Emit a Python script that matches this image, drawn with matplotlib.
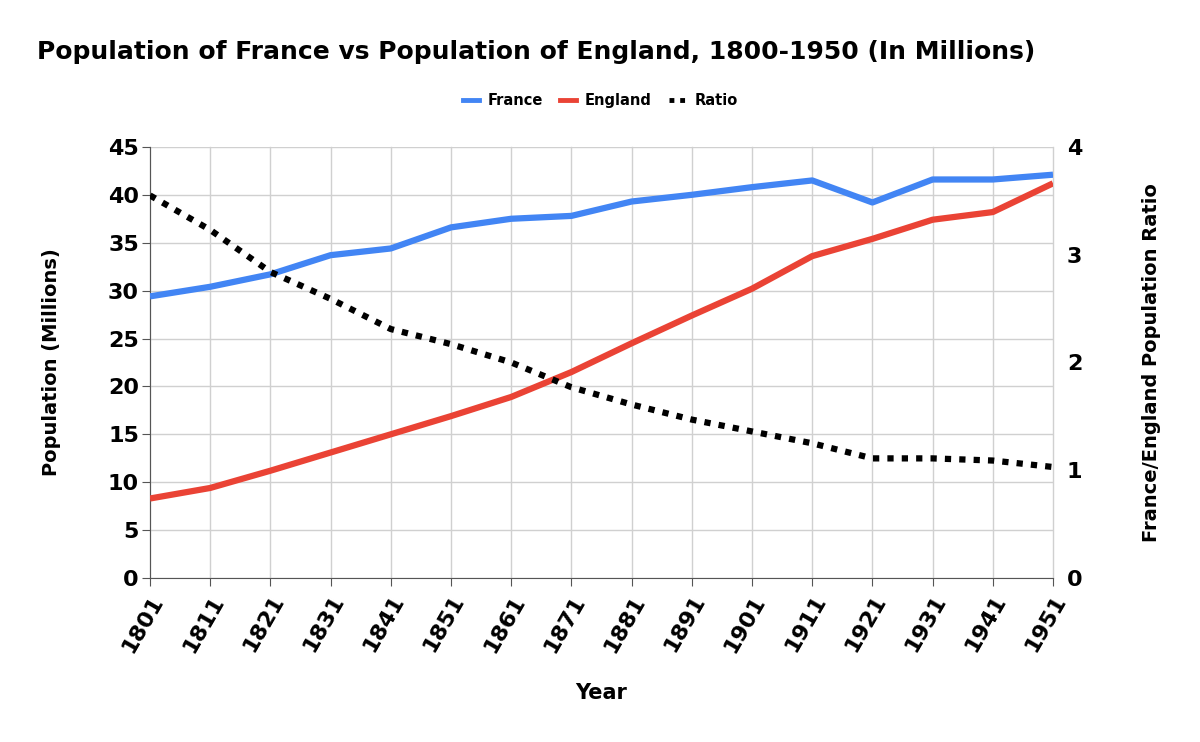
import matplotlib.pyplot as plt
from matplotlib.lines import Line2D

years = [1801, 1811, 1821, 1831, 1841, 1851, 1861, 1871, 1881, 1891, 1901, 1911, 1921, 1931, 1941, 1951]
france = [29.4, 30.4, 31.7, 33.7, 34.4, 36.6, 37.5, 37.8, 39.3, 40.0, 40.8, 41.5, 39.2, 41.6, 41.6, 42.1]
england = [8.3, 9.4, 11.2, 13.1, 15.0, 16.9, 18.9, 21.5, 24.5, 27.4, 30.2, 33.6, 35.4, 37.4, 38.2, 41.2]
ratio = [3.55, 3.23, 2.84, 2.59, 2.31, 2.17, 2.00, 1.77, 1.61, 1.47, 1.36, 1.25, 1.11, 1.11, 1.09, 1.03]

BLUE = '#4285f4'
RED = '#ea4335'

plt.rcParams['font.family'] = ['DejaVu Sans']
plt.rcParams['font.weight'] = 'bold'

fig = plt.figure(figsize=(12, 7.42), dpi=100)
ax = fig.add_axes([0.125, 0.221, 0.7525, 0.581])
ax2 = ax.twinx()

ax.plot(years, france, color=BLUE, lw=4.5, solid_capstyle='butt', zorder=3)
ax.plot(years, england, color=RED, lw=4.5, solid_capstyle='butt', zorder=3)
ax2.plot(years, ratio, color='black', lw=4.5, linestyle=(0, (1, 1.3)), dash_capstyle='butt', zorder=3)

ax.set_xlim(1801, 1951)
ax.set_ylim(0, 45)
ax2.set_ylim(0, 4)
ax.set_xticks(years)
ax.set_xticklabels([str(y) for y in years], rotation=60, ha='right', rotation_mode='anchor')
ax.set_yticks(range(0, 46, 5))
ax2.set_yticks([0, 1, 2, 3, 4])

ax.grid(True, color='#d0d0d0', lw=1)
for gl in ax.get_xgridlines():
    gl.set_clip_on(False)
for a in (ax, ax2):
    for s in a.spines.values():
        s.set_visible(False)
ax.spines['bottom'].set_visible(True)
ax.spines['bottom'].set_color('#555555')
ax.spines['left'].set_visible(True)
ax.spines['left'].set_color('#555555')
ax.tick_params(axis='x', length=6, color='#555555', labelsize=16, pad=4)
ax.tick_params(axis='y', length=6, color='#555555', labelsize=16, pad=2)
ax2.tick_params(axis='y', length=0, labelsize=16, pad=10)

ax.set_xlabel('Year', fontsize=15, fontweight='bold', labelpad=20)
ax.set_ylabel('Population (Millions)', fontsize=14, fontweight='bold', labelpad=34)
ax2.set_ylabel('France/England Population Ratio', fontsize=14, fontweight='bold', labelpad=43)

fig.text(0.031, 0.93, 'Population of France vs Population of England, 1800-1950 (In Millions)',
         fontsize=18, fontweight='bold', ha='left', va='center')

handles = [Line2D([], [], color=BLUE, lw=3.5),
           Line2D([], [], color=RED, lw=3.5),
           Line2D([], [], color='black', lw=3.5, linestyle=(0, (1, 1.2)))]
fig.legend(handles, ['France', 'England', 'Ratio'], loc='center', bbox_to_anchor=(0.5, 0.865),
           ncol=3, frameon=False, fontsize=10.5, handlelength=1.1, handletextpad=0.6, columnspacing=1.2)

fig.savefig('out.png', dpi=100, facecolor='white')
